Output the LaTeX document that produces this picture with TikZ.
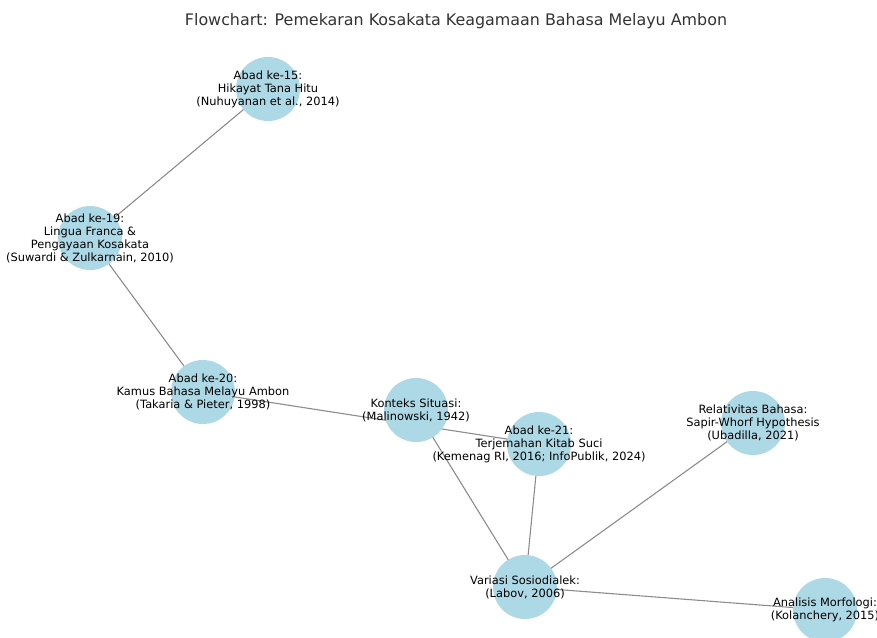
\documentclass[tikz,border=0pt]{standalone}
\usepackage{fontspec}
\setmainfont{DejaVu Sans}
\usetikzlibrary{backgrounds}
\definecolor{nodeblue}{HTML}{ADD8E6}
\definecolor{edgegray}{HTML}{8C8C8C}
\definecolor{titlegray}{HTML}{333333}
\begin{document}
\begin{tikzpicture}[x=1pt,y=-1pt,
  circ/.style={circle, fill=nodeblue, minimum size=64pt, inner sep=0pt},
  lbl/.style={align=center, font=\fontsize{11.4}{13}\selectfont, text=black, inner sep=0pt},
  edge/.style={draw=edgegray, line width=1.1pt}]
\useasboundingbox (0,0) rectangle (877,637);
\node[font=\fontsize{15.9}{19}\selectfont, text=titlegray] (title) at (456,21) {Flowchart: Pemekaran Kosakata Keagamaan Bahasa Melayu Ambon};

\node[circ] (a15) at (268,89) {};
\node[circ] (a19) at (90,238) {};
\node[circ] (a20) at (203,392) {};
\node[circ] (kon) at (416,410) {};
\node[circ] (a21) at (539,444) {};
\node[circ] (rel) at (753,423) {};
\node[circ] (var) at (525,587) {};
\node[circ] (ana) at (825,610) {};

\begin{scope}[on background layer]
\draw[edge] (a15.center) -- (a19.center);
\draw[edge] (a19.center) -- (a20.center);
\draw[edge] (a20.center) -- (a21.center);
\draw[edge] (kon.center) -- (var.center);
\draw[edge] (a21.center) -- (var.center);
\draw[edge] (rel.center) -- (var.center);
\draw[edge] (var.center) -- (ana.center);
\end{scope}

\node[lbl] (t15) at (a15) {Abad ke-15:\\Hikayat Tana Hitu\\(Nuhuyanan et al., 2014)};
\node[lbl] (t19) at (a19) {Abad ke-19:\\Lingua Franca \&\\Pengayaan Kosakata\\(Suwardi \& Zulkarnain, 2010)};
\node[lbl] (t20) at (a20) {Abad ke-20:\\Kamus Bahasa Melayu Ambon\\(Takaria \& Pieter, 1998)};
\node[lbl] (tkon) at (kon) {Konteks Situasi:\\(Malinowski, 1942)};
\node[lbl] (t21) at (a21) {Abad ke-21:\\Terjemahan Kitab Suci\\(Kemenag RI, 2016; InfoPublik, 2024)};
\node[lbl] (trel) at (rel) {Relativitas Bahasa:\\Sapir-Whorf Hypothesis\\(Ubadilla, 2021)};
\node[lbl] (tvar) at (var) {Variasi Sosiodialek:\\(Labov, 2006)};
\node[lbl] (tana) at (ana) {Analisis Morfologi:\\(Kolanchery, 2015)};
\end{tikzpicture}
\end{document}
